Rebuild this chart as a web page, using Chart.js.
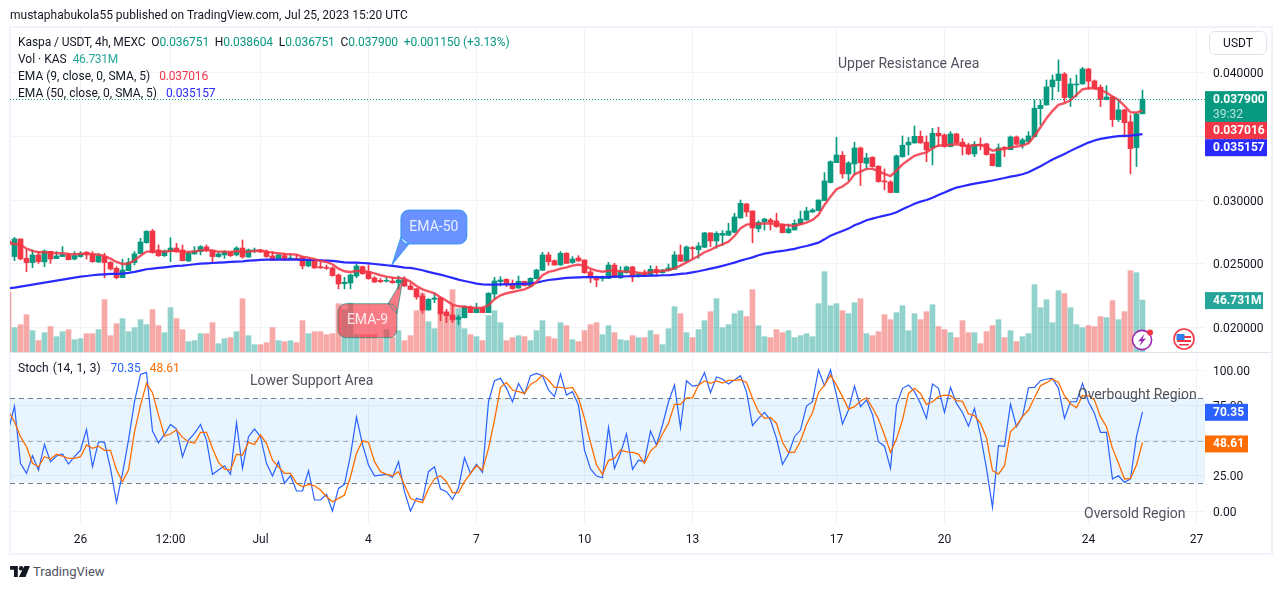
<!DOCTYPE html>
<html><head><meta charset="utf-8">
<script src="https://cdn.jsdelivr.net/npm/chart.js@4/dist/chart.umd.min.js"></script>
<style>
html,body{margin:0;padding:0;background:#fff;width:1281px;height:589px;overflow:hidden;font-family:Roboto,sans-serif}
canvas{position:absolute;left:0}
#frame{position:absolute;left:9px;top:26px;width:1260px;height:525px;border:2px solid #f0f3fa}
#sep{position:absolute;left:11px;top:352px;width:1260px;height:1px;background:#e0e3eb}
.t{position:absolute;white-space:pre;font-size:12px;line-height:16px;color:#131722;z-index:3}
.a{position:absolute;white-space:pre;font-size:14px;line-height:18px;color:#50535e;z-index:3}
.g{color:#089981}.k{color:#26a69a}
#usdt{position:absolute;left:1209px;top:31px;width:56px;height:22px;border:1.5px solid #e0e3eb;border-radius:6px;font-size:12px;line-height:22px;text-align:center;color:#131722;z-index:3}
svg{position:absolute;z-index:3}
</style></head><body>
<div id="frame"></div>
<canvas id="priceCanvas" width="1281" height="353" style="top:0;width:1281px;height:353px"></canvas>
<canvas id="stochCanvas" width="1281" height="202" style="top:352px;width:1281px;height:202px"></canvas>
<div id="sep"></div>
<div class="t" style="left:10px;top:7px">mustaphabukola55 published on TradingView.com, Jul 25, 2023 15:20 UTC</div>
<div class="t" style="left:18px;top:34px;letter-spacing:-.09px">Kaspa / USDT, 4h, MEXC  O<span class="g">0.036751</span>  H<span class="g">0.038604</span>  L<span class="g">0.036751</span>  C<span class="g">0.037900</span>  <span class="g">+0.001150 (+3.13%)</span></div>
<div class="t" style="left:18px;top:51px">Vol · KAS  <span class="k" style="letter-spacing:-.3px">46.731M</span></div>
<div class="t" style="left:18px;top:68px">EMA (9, close, 0, SMA, 5)  <span style="color:#f23645;margin-left:3px;letter-spacing:-.2px">0.037016</span></div>
<div class="t" style="left:18px;top:85px">EMA (50, close, 0, SMA, 5)  <span style="color:#2a2aff;margin-left:3px;letter-spacing:-.1px">0.035157</span></div>
<div class="t" style="left:18px;top:360px;word-spacing:1px">Stoch (14, 1, 3)  <span style="color:#2962ff;margin-left:2px">70.35</span>  <span style="color:#ff6d00;margin-left:1px">48.61</span></div>
<div class="a" style="left:838px;top:54px">Upper Resistance Area</div>
<div class="a" style="left:250px;top:371px">Lower Support Area</div>
<div class="a" style="left:1078px;top:385px">Overbought Region</div>
<div class="a" style="left:1084px;top:504px">Oversold Region</div>
<div id="usdt">USDT</div>
<svg style="left:1131px;top:328px" width="24" height="24" viewBox="0 0 24 24"><circle cx="11" cy="12" r="9.6" fill="#fff" stroke="#9c27b0" stroke-width="1.6"/><path d="M13.5 6 L7 13.5 L10.5 13 L8.5 18 L15 10.5 L11.5 11 Z" fill="#9c27b0"/><circle cx="19" cy="4.5" r="3" fill="#f23645"/></svg>
<svg style="left:1172px;top:327px" width="24" height="24" viewBox="0 0 24 24"><circle cx="12" cy="12" r="10" fill="#fff" stroke="#f23645" stroke-width="1.6"/><path d="M5 9h14v2H5zM5 13h14v2H5zM7 17h10v1.6H7z" fill="#f23645"/><path d="M4.5 7h8v6h-8z" fill="#2f80ed"/></svg>
<svg style="left:10px;top:566px" width="20" height="11" viewBox="0 0 36 20"><path d="M0 0h14v20H7V7H0z" fill="#131722"/><circle cx="20" cy="4" r="4" fill="#131722"/><path d="M26 0h10l-8 20H16z" fill="#131722"/></svg>
<div class="t" style="left:33px;top:564px;font-size:13px;color:#50535e">TradingView</div>
<script>
const categories=Array.from({length:190},(_, i)=>i-1);
const tickIndex=[11,26,41,59,77,95,113,137,155,179,197];
const tickLabels=["26","12:00","Jul","4","7","10","13","17","20","24","27"];
const priceTicks=[0.02,0.025,0.03,0.035,0.04];
const stochTicks=[0,25,50,75,100];
const open=[.02680,
.02558,.02696,.02545,.02511,.02571,.02516,.02599,.02542,.02558,.02571,
.02539,.02558,.02592,.02579,.02516,.02558,.02513,.02466,.02393,.02448,
.02511,.02581,.02667,.02758,.02610,.02565,.02597,.02625,.02610,.02524,
.02579,.02597,.02633,.02610,.02558,.02571,.02592,.02571,.02625,.02555,
.02602,.02610,.02597,.02563,.02537,.02566,.02537,.02542,.02552,.02485,
.02526,.02479,.02472,.02469,.02414,.02346,.02351,.02406,.02479,.02440,
.02391,.02372,.02365,.02367,.02354,.02375,.02328,.02307,.02250,.02140,
.02224,.02234,.02125,.02101,.02067,.02080,.02161,.02119,.02153,.02119,
.02265,.02362,.02380,.02349,.02312,.02365,.02328,.02385,.02451,.02571,
.02526,.02492,.02584,.02511,.02547,.02532,.02438,.02396,.02386,.02386,
.02492,.02391,.02432,.02477,.02401,.02427,.02412,.02459,.02432,.02448,
.02459,.02571,.02521,.02628,.02612,.02631,.02743,.02680,.02725,.02725,
.02748,.02860,.02970,.02915,.02777,.02829,.02845,.02837,.02808,.02745,
.02766,.02813,.02845,.02907,.02918,.02996,.03137,.03293,.03351,.03205,
.03283,.03408,.03288,.03335,.03265,.03150,.03142,.03059,.03340,.03432,
.03447,.03499,.03453,.03408,.03523,.03510,.03419,.03518,.03453,.03429,
.03361,.03437,.03440,.03361,.03262,.03413,.03395,.03494,.03434,.03458,
.03497,.03716,.03745,.03886,.03935,.03987,.03802,.03901,.03909,.04026,
.03932,.03883,.03786,.03807,.03630,.03706,.03612,.03411,.036751];
const high=[.02690,
.02709,.02696,.02610,.02610,.02597,.02610,.02599,.02597,.02636,.02584,
.02597,.02597,.02597,.02597,.02584,.02584,.02518,.02479,.02537,.02545,
.02597,.02701,.02761,.02771,.02649,.02610,.02706,.02662,.02649,.02597,
.02636,.02644,.02649,.02610,.02597,.02605,.02597,.02636,.02688,.02618,
.02625,.02615,.02610,.02597,.02576,.02584,.02571,.02571,.02558,.02537,
.02532,.02513,.02492,.02479,.02422,.02396,.02422,.02500,.02484,.02492,
.02401,.02388,.02396,.02396,.02406,.02401,.02349,.02310,.02271,.02229,
.02271,.02239,.02146,.02172,.02101,.02172,.02172,.02193,.02161,.02276,
.02396,.02401,.02385,.02375,.02406,.02365,.02393,.02459,.02592,.02592,
.02532,.02597,.02589,.02558,.02565,.02532,.02453,.02406,.02406,.02513,
.02505,.02479,.02484,.02482,.02432,.02453,.02487,.02484,.02459,.02500,
.02597,.02649,.02641,.02636,.02667,.02748,.02745,.02753,.02761,.02818,
.02897,.03001,.02975,.02915,.02839,.02858,.02858,.02897,.02813,.02813,
.02845,.02915,.02944,.02933,.03001,.03215,.03307,.03492,.03380,.03301,
.03453,.03416,.03366,.03340,.03270,.03244,.03153,.03353,.03502,.03492,
.03580,.03541,.03502,.03562,.03570,.03518,.03536,.03523,.03481,.03445,
.03458,.03487,.03445,.03361,.03440,.03419,.03502,.03502,.03484,.03536,
.03784,.03784,.03940,.03979,.04097,.03998,.03953,.03979,.04039,.04032,
.03940,.03901,.03896,.03810,.03784,.03711,.03666,.03680,.038604];
const low=[.02650,
.02526,.02532,.02440,.02472,.02505,.02479,.02505,.02542,.02558,.02532,
.02532,.02552,.02539,.02513,.02511,.02393,.02453,.02383,.02393,.02448,
.02492,.02581,.02662,.02584,.02558,.02558,.02518,.02592,.02524,.02518,
.02576,.02571,.02597,.02505,.02552,.02545,.02558,.02563,.02545,.02552,
.02589,.02589,.02552,.02526,.02532,.02526,.02532,.02532,.02461,.02479,
.02466,.02466,.02458,.02404,.02305,.02305,.02305,.02393,.02419,.02380,
.02354,.02354,.02359,.02349,.02302,.02323,.02297,.02224,.02114,.02138,
.02198,.02057,.02041,.02041,.02026,.02077,.02119,.02119,.02119,.02119,
.02224,.02328,.02323,.02302,.02310,.02328,.02323,.02383,.02448,.02490,
.02490,.02490,.02505,.02505,.02521,.02427,.02354,.02323,.02367,.02386,
.02393,.02388,.02427,.02362,.02396,.02401,.02406,.02412,.02427,.02445,
.02459,.02521,.02518,.02545,.02545,.02628,.02636,.02623,.02644,.02722,
.02745,.02858,.02871,.02667,.02751,.02766,.02766,.02787,.02743,.02740,
.02766,.02813,.02842,.02902,.02915,.02996,.03134,.03293,.03171,.03153,
.03197,.03114,.03244,.03257,.03140,.03080,.03059,.03059,.03335,.03353,
.03445,.03445,.03301,.03275,.03419,.03413,.03416,.03440,.03353,.03353,
.03340,.03393,.03351,.03267,.03260,.03340,.03393,.03432,.03406,.03445,
.03494,.03588,.03742,.03784,.03849,.03763,.03732,.03810,.03906,.03867,
.03867,.03732,.03784,.03575,.03614,.03492,.03205,.03262,.036751];
const close=[.02655,
.02696,.02540,.02511,.02571,.02518,.02602,.02539,.02563,.02576,.02534,
.02566,.02584,.02571,.02518,.02566,.02511,.02461,.02393,.02453,.02513,
.02579,.02672,.02756,.02589,.02565,.02602,.02625,.02594,.02526,.02584,
.02602,.02636,.02605,.02558,.02579,.02594,.02565,.02625,.02555,.02610,
.02610,.02594,.02558,.02529,.02571,.02532,.02547,.02537,.02485,.02526,
.02469,.02469,.02466,.02409,.02344,.02357,.02414,.02484,.02424,.02385,
.02359,.02362,.02370,.02354,.02375,.02328,.02300,.02242,.02138,.02224,
.02234,.02109,.02096,.02062,.02085,.02166,.02119,.02151,.02119,.02271,
.02367,.02375,.02346,.02307,.02365,.02331,.02388,.02453,.02571,.02518,
.02492,.02584,.02505,.02539,.02524,.02432,.02391,.02375,.02396,.02492,
.02396,.02438,.02477,.02399,.02422,.02406,.02459,.02432,.02453,.02469,
.02571,.02521,.02633,.02620,.02641,.02743,.02680,.02740,.02740,.02758,
.02868,.02975,.02907,.02782,.02826,.02852,.02826,.02792,.02745,.02774,
.02818,.02852,.02915,.02923,.03001,.03150,.03301,.03353,.03205,.03291,
.03408,.03293,.03330,.03262,.03145,.03142,.03059,.03346,.03429,.03453,
.03499,.03447,.03393,.03523,.03502,.03419,.03518,.03447,.03419,.03361,
.03437,.03429,.03356,.03270,.03408,.03403,.03494,.03437,.03471,.03502,
.03719,.03742,.03886,.03940,.03987,.03802,.03909,.03906,.04026,.03930,
.03875,.03786,.03807,.03630,.03706,.03606,.03403,.03674,.037900];
const volumeM=[53.7,
21.9,24.6,33.6,19.2,10.2,17.4,22.8,13.8,18.3,20.1,
11.1,12.0,16.5,16.5,20.1,47.1,14.7,25.5,30.0,18.3,
21.9,29.1,24.6,38.1,23.7,17.4,39.9,30.0,20.1,9.3,
10.2,16.5,16.5,26.4,7.5,12.0,12.9,18.3,48.0,14.7,
6.6,6.6,8.4,21.9,10.2,9.3,10.2,8.4,28.2,16.5,
18.3,18.3,15.6,16.5,43.5,38.1,44.1,15.6,15.6,15.6,
15.6,12.0,20.1,13.5,19.2,10.2,14.7,37.2,53.1,27.3,
21.0,36.6,35.1,56.1,39.0,21.0,15.6,13.8,10.2,32.7,
37.2,26.4,10.2,12.9,14.7,13.8,10.2,19.2,28.2,13.8,
12.0,26.4,23.7,11.1,9.3,19.2,24.6,26.4,15.6,23.7,
17.4,11.1,10.2,14.7,12.9,12.9,19.2,15.6,6.6,21.0,
40.8,34.5,17.4,12.9,20.1,28.2,36.3,48.0,21.9,24.6,
34.5,37.2,31.8,56.1,23.7,13.8,12.9,20.1,17.4,19.2,
12.9,14.7,16.5,13.8,43.5,72.3,41.7,43.5,37.2,34.5,
44.4,48.0,16.5,14.7,18.3,33.6,29.1,35.4,41.7,19.2,
34.5,29.1,36.3,42.6,22.8,20.1,17.4,12.9,28.2,17.4,
17.4,7.5,18.3,23.7,29.1,12.9,19.2,9.3,13.8,16.5,
60.6,39.9,47.1,26.4,55.2,52.5,39.9,24.6,21.9,23.7,
22.8,31.8,30.9,46.2,29.1,36.3,73.2,71.4,46.731];
const ema9=[.02662,
.02657,.02652,.02620,.02602,.02592,.02592,.02589,.02584,.02584,.02579,
.02576,.02579,.02581,.02576,.02573,.02563,.02542,.02516,.02500,.02503,
.02529,.02565,.02597,.02597,.02597,.02597,.02602,.02605,.02594,.02594,
.02599,.02607,.02610,.02602,.02597,.02597,.02594,.02602,.02594,.02597,
.02602,.02605,.02597,.02589,.02584,.02579,.02576,.02573,.02558,.02550,
.02537,.02524,.02516,.02498,.02464,.02443,.02438,.02445,.02448,.02438,
.02427,.02412,.02401,.02393,.02391,.02385,.02362,.02328,.02302,.02286,
.02271,.02239,.02213,.02182,.02169,.02166,.02161,.02156,.02159,.02177,
.02224,.02255,.02271,.02281,.02292,.02302,.02323,.02359,.02412,.02438,
.02448,.02464,.02474,.02487,.02495,.02485,.02464,.02448,.02440,.02448,
.02448,.02443,.02440,.02438,.02432,.02430,.02435,.02443,.02445,.02453,
.02466,.02487,.02513,.02537,.02563,.02592,.02610,.02636,.02654,.02675,
.02719,.02779,.02808,.02813,.02813,.02818,.02816,.02813,.02808,.02803,
.02798,.02811,.02824,.02845,.02884,.02962,.03027,.03085,.03106,.03140,
.03202,.03223,.03244,.03244,.03226,.03205,.03187,.03231,.03280,.03314,
.03346,.03361,.03374,.03406,.03427,.03427,.03434,.03437,.03432,.03424,
.03429,.03432,.03413,.03387,.03395,.03400,.03413,.03419,.03427,.03445,
.03502,.03570,.03640,.03698,.03745,.03758,.03781,.03823,.03867,.03875,
.03875,.03862,.03841,.03810,.03784,.03737,.03687,.03685,.037016];
const ema50=[.02310,
.02315,.02323,.02331,.02339,.02346,.02354,.02362,.02370,.02378,.02385,
.02393,.02401,.02406,.02412,.02417,.02419,.02422,.02422,.02425,.02430,
.02438,.02448,.02459,.02464,.02469,.02474,.02479,.02485,.02487,.02492,
.02498,.02503,.02505,.02508,.02511,.02513,.02516,.02518,.02521,.02526,
.02529,.02532,.02534,.02534,.02534,.02534,.02534,.02534,.02532,.02532,
.02532,.02529,.02526,.02524,.02518,.02513,.02511,.02511,.02508,.02505,
.02500,.02495,.02490,.02485,.02479,.02472,.02469,.02461,.02451,.02438,
.02427,.02417,.02404,.02391,.02378,.02367,.02357,.02346,.02341,.02339,
.02339,.02341,.02341,.02341,.02344,.02344,.02349,.02354,.02365,.02375,
.02380,.02385,.02391,.02393,.02396,.02398,.02398,.02398,.02398,.02398,
.02401,.02401,.02404,.02404,.02406,.02406,.02409,.02409,.02412,.02412,
.02417,.02422,.02427,.02435,.02443,.02453,.02464,.02474,.02485,.02498,
.02511,.02526,.02539,.02552,.02568,.02581,.02589,.02597,.02602,.02610,
.02618,.02631,.02641,.02654,.02667,.02693,.02722,.02740,.02758,.02777,
.02803,.02821,.02842,.02855,.02868,.02878,.02889,.02905,.02928,.02949,
.02972,.02988,.03001,.03019,.03040,.03059,.03080,.03098,.03108,.03119,
.03129,.03137,.03145,.03153,.03163,.03173,.03184,.03192,.03202,.03218,
.03241,.03265,.03291,.03317,.03340,.03361,.03385,.03408,.03429,.03450,
.03466,.03479,.03487,.03494,.03500,.03502,.03505,.03510,.035157];
const stochK=[57.4,
74.4,33.8,26.7,39.2,29.0,47.2,35,39,40.4,33.3,
38.5,43.2,57.9,31.4,49.1,48.7,30.2,6.1,26.7,50.3,
77.5,96.9,98.3,56.7,48.4,54.3,61.4,58.1,38.5,50.3,
55,61.4,50.3,26,29,32.1,26,62.6,30.2,52.7,
58.1,52.7,33.8,24.8,35,19.6,25,14.2,14.2,28.6,
7.8,7.8,11.8,0,16,18.9,39.7,66.6,47.2,32.6,
25,25.5,26,23.8,35,13.7,0,9,7.8,27.9,
31.4,15.6,13.7,8.2,16.5,37.8,26.7,33.1,27.4,77.5,
92.4,94.1,87,77.5,90.5,82.9,96,97.6,96,85.8,
81.1,97.1,82.2,84.6,75.1,43.2,29.8,24.8,23.6,59.3,
30.2,40.9,54.8,29.5,36.1,35,56.7,46.8,61,77.5,
89.3,59.1,92.4,88.6,89.3,98.1,83.9,95,93.6,90,
92.9,96,84.6,60.5,65.7,69.9,64.5,51.5,33.1,40.4,
52.7,57.4,74.4,77.5,100,88.9,100,82.2,61.7,71.6,
88.6,74,78.7,68.5,49.1,46,30.2,75.1,87,89.3,
84.6,76.3,65.7,90,87,69.9,87.7,76.3,69.9,60.2,
72.8,53.9,30.2,2.6,46.3,45.8,75.9,59.8,66.9,87.4,
87.7,92.4,93.6,94.1,87,65.7,77.5,77.5,90.5,77.5,
69.2,55.8,55.8,22.7,25,20.3,22.7,52.7,70.35];
const stochD=[70.4,
63.3,52.7,45.6,33.8,31.4,38.5,36.8,40.2,39,37.3,
37.3,38.5,46.8,44.4,46,43,43,29,20.8,29,
56.2,75.1,90.5,83.9,68,53.2,54.6,57.6,52.2,49.1,
48,55.8,55.8,44.4,34.5,29.8,29,40.2,39.7,48.7,
47.2,53.9,48,36.1,31.4,26.7,26.7,19.6,17.2,18.9,
17.9,14.9,10.1,6.6,9,11.3,24.3,40.9,49.8,48.7,
35,27.9,26,25,27.9,18.4,9,7.1,5.9,16,
22.7,25,20.8,13,13,20.8,26.7,32.1,29,44.4,
64.5,87.7,91,85.8,84.6,83.4,89.8,92.2,96.4,92.9,
87.7,87.7,87,87.7,80.3,65.7,48.7,32.6,26,35.9,
37.3,43.2,42,41.6,40.4,33.8,42.5,46.3,54.6,62.1,
75.6,75.6,80.3,80.3,89.3,92.2,90.5,92.2,90.7,92.6,
92.6,93.1,91.2,79.9,70.4,65.7,66.4,62.1,48.7,41.6,
41.6,49.6,61.4,69.9,83.9,89.3,96.4,89.3,81.1,72.3,
74,78,80.3,73.2,65.2,53.9,41.6,51,64.5,83.4,
87,83.4,75.6,77.5,81.1,82.2,81.8,78.2,77.7,68.8,
67.6,62.1,52,28.6,26.2,32.1,56.2,60.5,66.9,71.6,
80.3,88.9,91,93.6,91.2,81.8,76.3,73.2,81.8,81.8,
78.7,66.9,59.8,44.4,33.8,22.7,23.1,32.6,48.61];

const GREEN="#089981",RED="#f23645",GRID="#f0f3fa",FONT='Roboto,sans-serif';
const up=open.map((o,i)=>close[i]>=o);
const pts=(a)=>a.map((v,i)=>({x:categories[i],y:v}));
const xMin=-0.75,xMax=198.42;
const noPad=s=>{s.paddingTop=0;s.paddingBottom=0;s.paddingLeft=0;s.paddingRight=0;};
function xScale(showLabels){return {type:"linear",offset:false,min:xMin,max:xMax,
  afterBuildTicks:s=>{s.ticks=tickIndex.map(v=>({value:v}))},
  afterFit:s=>{s.height=showLabels?30:0;noPad(s)},
  grid:{color:GRID,drawTicks:false,offset:false},border:{display:false},
  ticks:{display:showLabels,autoSkip:false,maxRotation:0,padding:10,color:"#131722",font:{family:FONT,size:12},
    callback:v=>tickLabels[tickIndex.indexOf(v)]}};}
function yScale(ticks,fmt,min,max){return {position:"right",min,max,
  afterBuildTicks:s=>{s.ticks=ticks.map(v=>({value:v}))},
  afterFit:s=>{s.width=65;noPad(s)},
  grid:{color:GRID,drawTicks:false},border:{display:false},
  ticks:{padding:8,labelOffset:1.5,autoSkip:false,color:"#131722",font:{family:FONT,size:12},callback:fmt}};}

function tag(ctx,x,y,w,h,color,text,sub){
  ctx.fillStyle=color;ctx.fillRect(x,y,w,h);
  ctx.fillStyle="#fff";ctx.font='bold 12px '+FONT;ctx.textBaseline="middle";ctx.textAlign="left";
  ctx.fillText(text,x+8,y+9);
  if(sub){ctx.fillStyle="rgba(255,255,255,.7)";ctx.font='12px '+FONT;ctx.fillText(sub,x+8,y+24);}
}
function callout(ctx,box,tip,a,b,fill,stroke,text){
  ctx.save();ctx.beginPath();
  const r=8,{x,y,w,h}=box;
  ctx.moveTo(x+r,y);
  ctx.lineTo(x+w-r,y);ctx.arcTo(x+w,y,x+w,y+r,r);ctx.lineTo(x+w,y+h-r);ctx.arcTo(x+w,y+h,x+w-r,y+h,r);
  ctx.lineTo(x+r,y+h);ctx.arcTo(x,y+h,x,y+h-r,r);ctx.lineTo(x,y+r);ctx.arcTo(x,y,x+r,y,r);ctx.closePath();
  ctx.moveTo(a.x,a.y);ctx.lineTo(tip.x,tip.y);ctx.lineTo(b.x,b.y);ctx.closePath();
  ctx.fillStyle=fill;ctx.fill();ctx.strokeStyle=stroke;ctx.lineWidth=1;
  ctx.stroke();
  ctx.fillStyle="rgba(255,255,255,.85)";ctx.font='14px '+FONT;ctx.textAlign="center";ctx.textBaseline="middle";
  ctx.fillText(text,x+w/2,y+h/2);ctx.restore();
}
const pricePlugin={id:"priceOverlay",afterDatasetsDraw(c){
  const g=c.ctx,{left,right}=c.chartArea,Y=c.scales.y,X=c.scales.x;
  const ly=Y.getPixelForValue(close.at(-1));
  g.save();g.setLineDash([1,2]);g.strokeStyle=GREEN;g.lineWidth=1;g.beginPath();g.moveTo(left,Math.round(ly)+.5);g.lineTo(right,Math.round(ly)+.5);g.stroke();g.setLineDash([]);
  const t1={x:X.getPixelForValue(62.9),y:Y.getPixelForValue(0.02492)};
  callout(g,{x:t1.x+9,y:t1.y-55,w:66,h:34},t1,{x:t1.x+9,y:t1.y-28},{x:t1.x+17,y:t1.y-21},"rgba(41,98,255,.7)","rgba(33,150,243,.8)","EMA-50");
  const t2={x:X.getPixelForValue(64.75),y:Y.getPixelForValue(0.02385)};
  callout(g,{x:t2.x-65,y:t2.y+25,w:59,h:34},t2,{x:t2.x-15,y:t2.y+25},{x:t2.x-6,y:t2.y+35},"rgba(242,54,69,.65)","rgba(0,137,123,.6)","EMA-9");
  g.restore();
},afterDraw(c){
  const g=c.ctx,x=c.chartArea.right,Y=c.scales.y,V=c.scales.vol;
  g.save();
  tag(g,x,Y.getPixelForValue(close.at(-1))-8,62,31,GREEN,"0.037900","39:32");
  tag(g,x,Y.getPixelForValue(ema9.at(-1))+11.5,62,17,RED,"0.037016");
  tag(g,x,Y.getPixelForValue(ema50.at(-1))+5,62,17,"#2a2aff","0.035157");
  tag(g,x,V.getPixelForValue(volumeM.at(-1))-8,58,17,"#26a69a","46.731M");
  g.restore();
}};
const stochPlugin={id:"stochOverlay",beforeDatasetsDraw(c){
  const g=c.ctx,{left,right}=c.chartArea,Y=c.scales.y;
  const top=Y.getPixelForValue(80),bot=Y.getPixelForValue(20),mid=Y.getPixelForValue(50);
  g.save();g.fillStyle="rgba(33,150,243,.1)";g.fillRect(left,top,right-left,bot-top);
  g.lineWidth=1;g.setLineDash([5,4]);
  for(const [v,col] of [[top,"#787b86"],[bot,"#787b86"],[mid,"rgba(120,123,134,.6)"]]){
    g.strokeStyle=col;g.beginPath();g.moveTo(left,Math.round(v)+.5);g.lineTo(right,Math.round(v)+.5);g.stroke();}
  g.restore();
},afterDraw(c){
  const g=c.ctx,x=c.chartArea.right,Y=c.scales.y;
  g.save();
  tag(g,x,Y.getPixelForValue(stochK.at(-1))-8,43,17,"#2962ff","70.35");
  tag(g,x,Y.getPixelForValue(stochD.at(-1))-7,43,17,"#ff6d00","48.61");
  g.restore();
}};
Chart.defaults.animation=false;
new Chart(document.getElementById("priceCanvas"),{
  type:"bar",plugins:[pricePlugin],
  data:{datasets:[
    {type:"line",label:"EMA 9",order:1,data:pts(ema9),borderColor:"rgba(242,54,69,.85)",borderWidth:2.4,pointRadius:0,tension:0},
    {type:"line",label:"EMA 50",order:2,data:pts(ema50),borderColor:"#2a2aff",borderWidth:2.2,pointRadius:0,tension:0},
    {label:"Body",order:3,data:open.map((o,i)=>({x:categories[i],y:[o,close[i]]})),backgroundColor:up.map(u=>u?GREEN:RED),barThickness:5,minBarLength:1,grouped:false},
    {label:"Wick",order:4,data:low.map((l,i)=>({x:categories[i],y:[l,high[i]]})),backgroundColor:up.map(u=>u?GREEN:RED),barThickness:1,grouped:false},
    {label:"Volume",order:5,yAxisID:"vol",data:pts(volumeM),backgroundColor:up.map(u=>u?"rgba(38,166,154,.5)":"rgba(239,83,80,.5)"),barThickness:5,grouped:false}
  ]},
  options:{responsive:false,devicePixelRatio:1,animation:false,
    layout:{padding:{left:10,right:11,top:28,bottom:1}},
    plugins:{legend:{display:false},tooltip:{enabled:false}},
    scales:{x:xScale(false),
      y:yScale(priceTicks,v=>v.toFixed(6),0.018114,0.043466),
      vol:{display:false,min:0,max:291.6}}}
});
new Chart(document.getElementById("stochCanvas"),{
  type:"line",plugins:[stochPlugin],
  data:{datasets:[
    {label:"%K",data:pts(stochK),borderColor:"#2962ff",borderWidth:1.2,pointRadius:0,tension:0,order:2},
    {label:"%D",data:pts(stochD),borderColor:"#ff6d00",borderWidth:1.3,pointRadius:0,tension:0,order:1}
  ]},
  options:{responsive:false,devicePixelRatio:1,animation:false,
    layout:{padding:{left:10,right:11,top:1,bottom:1}},
    plugins:{legend:{display:false},tooltip:{enabled:false}},
    scales:{x:xScale(true),y:yScale(stochTicks,v=>v.toFixed(2),-8.51,112.06)}}
});
</script>
</body></html>
